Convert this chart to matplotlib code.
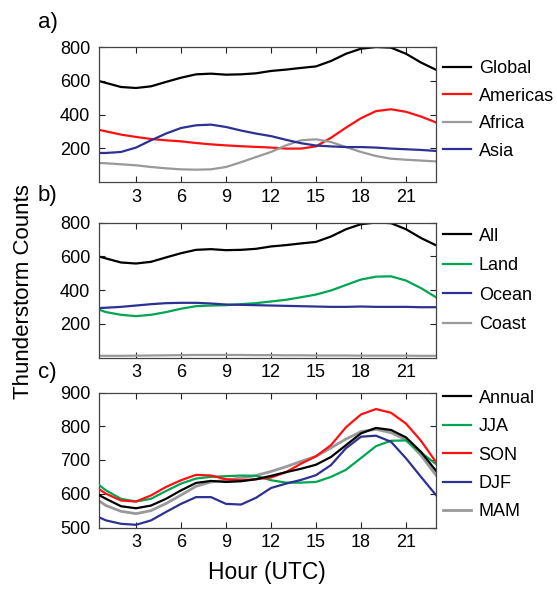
import matplotlib
matplotlib.use("Agg")
import matplotlib.pyplot as plt

plt.rcParams["font.family"] = ["Liberation Sans", "DejaVu Sans"]

# Hour of day (UTC)
hours = [0.5] + list(range(1, 24))
xticks = [3, 6, 9, 12, 15, 18, 21]

# a) regional diurnal cycles
global_counts = [599, 587, 563, 557, 567, 593, 618, 638, 642, 636, 638, 644,
                 658, 666, 676, 685, 717, 760, 790, 800, 796, 760, 708, 665]
americas = [310, 300, 281, 267, 255, 247, 241, 231, 223, 217, 212, 208,
            204, 198, 198, 211, 262, 322, 378, 420, 431, 416, 388, 353]
africa = [113, 111, 105, 99, 89, 81, 75, 73, 75, 89, 117, 148,
          178, 217, 247, 253, 237, 207, 178, 154, 138, 132, 127, 122]
asia = [172, 172, 178, 204, 247, 287, 320, 336, 340, 326, 305, 287,
        272, 250, 230, 216, 211, 207, 207, 204, 198, 194, 190, 184]

# b) surface type
land = [285, 269, 253, 245, 253, 269, 289, 304, 308, 310, 316, 322,
        332, 342, 357, 373, 397, 430, 462, 479, 481, 456, 411, 357]
ocean = [293, 295, 300, 308, 316, 322, 324, 324, 320, 314, 312, 310,
         308, 306, 304, 302, 300, 300, 302, 300, 300, 300, 298, 298]
coast = [10, 10, 10, 11, 12, 13, 14, 15, 15, 15, 15, 14,
         14, 13, 13, 12, 12, 12, 11, 11, 11, 11, 10, 10]

# c) seasons
annual = [597, 585, 563, 557, 565, 585, 610, 632, 638, 635, 637, 643,
          653, 664, 674, 686, 709, 744, 779, 795, 789, 767, 724, 668]
jja = [627, 610, 585, 577, 585, 608, 630, 645, 650, 652, 654, 653,
       640, 633, 633, 635, 650, 671, 706, 741, 757, 758, 722, 688]
son = [615, 600, 580, 577, 595, 620, 640, 656, 654, 643, 640, 643,
       648, 664, 689, 711, 744, 797, 835, 851, 840, 808, 757, 694]
djf = [531, 521, 511, 508, 521, 546, 570, 590, 590, 570, 568, 588,
       617, 630, 641, 655, 685, 735, 769, 772, 754, 705, 650, 596]
mam = [580, 565, 548, 541, 550, 571, 596, 622, 635, 640, 647, 654,
       666, 680, 696, 711, 736, 762, 784, 791, 781, 760, 714, 655]

BLACK = "#000000"
RED = "#ff1010"
GRAY = "#999999"
BLUE = "#2e3192"
GREEN = "#00a651"

W, H = 557, 590
fig = plt.figure(figsize=(W / 100, H / 100), dpi=100)


def add_panel(top_px, ylim, yticks):
    left, right, height = 98.5, 436.0, 135.0
    ax = fig.add_axes([left / W, 1 - (top_px + height) / H,
                       (right - left) / W, height / H])
    ax.set_xlim(0.5, 23)
    ax.set_ylim(*ylim)
    ax.set_xticks(xticks)
    ax.set_yticks(yticks)
    ax.tick_params(direction="in", top=True, right=True, length=4.5,
                   width=0.8, labelsize=13, color="#222222")
    ax.tick_params(axis="x", pad=5)
    ax.tick_params(axis="y", pad=6)
    for sp in ax.spines.values():
        sp.set_color("#444444")
        sp.set_linewidth(0.9)
    return ax


def add_legend(ax, handles, labels, center_px, spacing):
    ax.legend(handles, labels, loc="center left",
              bbox_to_anchor=(443.3 / W, 1 - center_px / H),
              bbox_transform=fig.transFigure, frameon=False, borderpad=0,
              borderaxespad=0, handlelength=1.53, handletextpad=0.43,
              labelspacing=spacing, fontsize=13)


lw = 1.6

# Panel a
ax1 = add_panel(47, (0, 800), [200, 400, 600, 800])
ax1.plot(hours, global_counts, color=BLACK, lw=lw, label="Global")
ax1.plot(hours, americas, color=RED, lw=lw, label="Americas")
ax1.plot(hours, africa, color=GRAY, lw=lw, label="Africa")
ax1.plot(hours, asia, color=BLUE, lw=lw, label="Asia")
h, l = ax1.get_legend_handles_labels()
add_legend(ax1, h, l, 110, 0.58)

# Panel b
ax2 = add_panel(222.5, (0, 800), [200, 400, 600, 800])
ax2.plot(hours, global_counts, color=BLACK, lw=lw, label="All")
ax2.plot(hours, land, color=GREEN, lw=lw, label="Land")
ax2.plot(hours, ocean, color=BLUE, lw=lw, label="Ocean")
ax2.plot(hours, coast, color=GRAY, lw=lw, label="Coast")
h, l = ax2.get_legend_handles_labels()
add_legend(ax2, h, l, 280.5, 0.69)

# Panel c
ax3 = add_panel(392.5, (500, 900), [500, 600, 700, 800, 900])
ax3.plot(hours, mam, color=GRAY, lw=lw + 0.4, label="MAM", zorder=2)
ax3.plot(hours, jja, color=GREEN, lw=lw, label="JJA", zorder=3)
ax3.plot(hours, djf, color=BLUE, lw=lw, label="DJF", zorder=3)
ax3.plot(hours, son, color=RED, lw=lw, label="SON", zorder=4)
ax3.plot(hours, annual, color=BLACK, lw=lw, label="Annual", zorder=5)
h, l = ax3.get_legend_handles_labels()
hmap = dict(zip(l, h))
order = ["Annual", "JJA", "SON", "DJF", "MAM"]
add_legend(ax3, [hmap[k] for k in order], order, 455, 0.63)

# Panel letters and shared axis labels
for txt, ypx in (("a)", 22.5), ("b)", 195), ("c)", 372.5)):
    fig.text(38 / W, 1 - ypx / H, txt, fontsize=16, ha="left", va="center")
fig.text(24 / W, 1 - 292 / H, "Thunderstorm Counts", rotation=90,
         fontsize=16, ha="center", va="center")
fig.text(267 / W, 1 - 572 / H, "Hour (UTC)", fontsize=16.5,
         ha="center", va="center")

fig.savefig("out.png", dpi=100)
